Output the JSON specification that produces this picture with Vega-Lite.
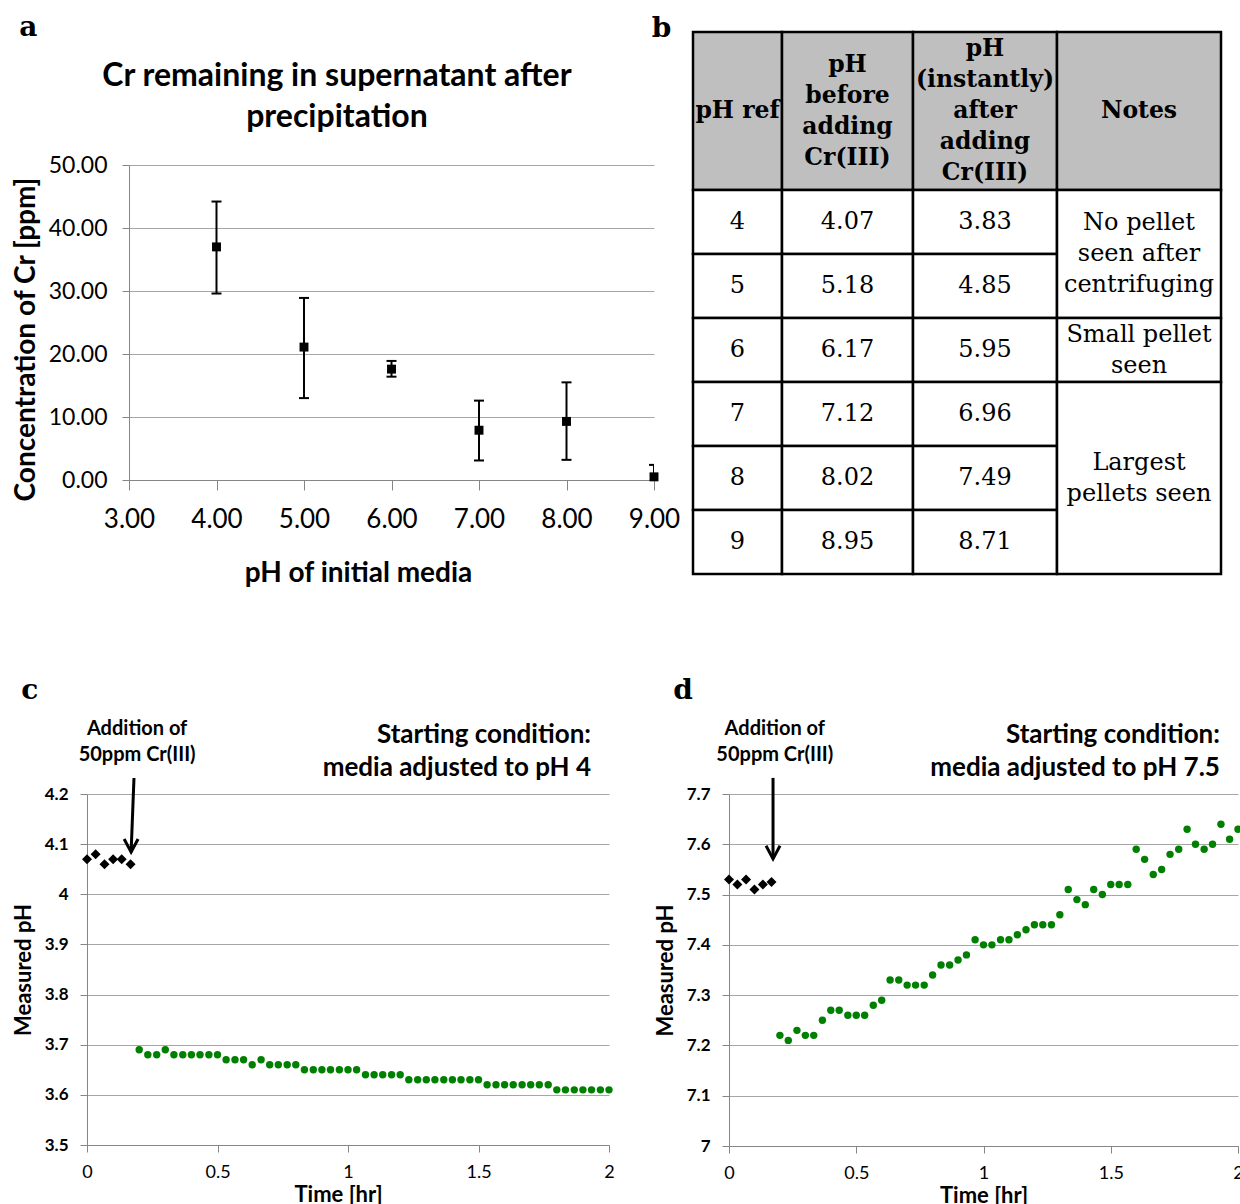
{
  "$schema": "https://vega.github.io/schema/vega-lite/v6.json",
  "background": "white",
  "padding": {"left": 12, "top": 14, "right": 0, "bottom": 0},
  "config": {
    "view": {"stroke": null},
    "axis": {"domainColor": "#868686", "tickColor": "#868686", "gridColor": "#a6a6a6", "labelColor": "black", "titleColor": "black", "labelFont": "Lato", "titleFont": "Lato", "domainWidth": 1, "gridWidth": 1, "tickWidth": 1},
    "title": {"color": "black"}
  },
  "datasets": {
    "panelA": [
      {"pH": 4, "conc": 37.0, "lo": 29.6, "hi": 44.2},
      {"pH": 5, "conc": 21.1, "lo": 13.0, "hi": 28.9},
      {"pH": 6, "conc": 17.6, "lo": 16.4, "hi": 18.9},
      {"pH": 7, "conc": 7.9, "lo": 3.1, "hi": 12.6},
      {"pH": 8, "conc": 9.3, "lo": 3.2, "hi": 15.5},
      {"pH": 9, "conc": 0.5, "lo": -1.4, "hi": 2.4}
    ],
    "tableHeader": [
      {"c0": 0, "cm": 1, "c1": 2, "r0": 0, "rm": 1, "r1": 2, "label": "pH ref"},
      {"c0": 2, "cm": 3, "c1": 4, "r0": 0, "rm": 1, "r1": 2, "label": "pH\nbefore\nadding\nCr(III)"},
      {"c0": 4, "cm": 5, "c1": 6, "r0": 0, "rm": 1, "r1": 2, "label": "pH\n(instantly)\nafter\nadding\nCr(III)"},
      {"c0": 6, "cm": 7, "c1": 8, "r0": 0, "rm": 1, "r1": 2, "label": "Notes"}
    ],
    "tableBody": [
      {"c0": 0, "cm": 1, "c1": 2, "r0": 2, "rm": 3, "r1": 4, "label": "4"},
      {"c0": 2, "cm": 3, "c1": 4, "r0": 2, "rm": 3, "r1": 4, "label": "4.07"},
      {"c0": 4, "cm": 5, "c1": 6, "r0": 2, "rm": 3, "r1": 4, "label": "3.83"},
      {"c0": 0, "cm": 1, "c1": 2, "r0": 4, "rm": 5, "r1": 6, "label": "5"},
      {"c0": 2, "cm": 3, "c1": 4, "r0": 4, "rm": 5, "r1": 6, "label": "5.18"},
      {"c0": 4, "cm": 5, "c1": 6, "r0": 4, "rm": 5, "r1": 6, "label": "4.85"},
      {"c0": 0, "cm": 1, "c1": 2, "r0": 6, "rm": 7, "r1": 8, "label": "6"},
      {"c0": 2, "cm": 3, "c1": 4, "r0": 6, "rm": 7, "r1": 8, "label": "6.17"},
      {"c0": 4, "cm": 5, "c1": 6, "r0": 6, "rm": 7, "r1": 8, "label": "5.95"},
      {"c0": 0, "cm": 1, "c1": 2, "r0": 8, "rm": 9, "r1": 10, "label": "7"},
      {"c0": 2, "cm": 3, "c1": 4, "r0": 8, "rm": 9, "r1": 10, "label": "7.12"},
      {"c0": 4, "cm": 5, "c1": 6, "r0": 8, "rm": 9, "r1": 10, "label": "6.96"},
      {"c0": 0, "cm": 1, "c1": 2, "r0": 10, "rm": 11, "r1": 12, "label": "8"},
      {"c0": 2, "cm": 3, "c1": 4, "r0": 10, "rm": 11, "r1": 12, "label": "8.02"},
      {"c0": 4, "cm": 5, "c1": 6, "r0": 10, "rm": 11, "r1": 12, "label": "7.49"},
      {"c0": 0, "cm": 1, "c1": 2, "r0": 12, "rm": 13, "r1": 14, "label": "9"},
      {"c0": 2, "cm": 3, "c1": 4, "r0": 12, "rm": 13, "r1": 14, "label": "8.95"},
      {"c0": 4, "cm": 5, "c1": 6, "r0": 12, "rm": 13, "r1": 14, "label": "8.71"},
      {"c0": 6, "cm": 7, "c1": 8, "r0": 2, "rm": 4, "r1": 6, "label": "No pellet\nseen after\ncentrifuging"},
      {"c0": 6, "cm": 7, "c1": 8, "r0": 6, "rm": 7, "r1": 8, "label": "Small pellet\nseen"},
      {"c0": 6, "cm": 7, "c1": 8, "r0": 8, "rm": 11, "r1": 14, "label": "Largest\npellets seen"}
    ],
    "cBefore": [
      {"t": 0, "v": 4.07}, {"t": 0.033, "v": 4.08}, {"t": 0.067, "v": 4.06},
      {"t": 0.1, "v": 4.07}, {"t": 0.133, "v": 4.07}, {"t": 0.167, "v": 4.06}
    ],
    "cAfter": [
      {"t": 0.2, "v": 3.69}, {"t": 0.233, "v": 3.68}, {"t": 0.267, "v": 3.68}, {"t": 0.3, "v": 3.69}, {"t": 0.333, "v": 3.68},
      {"t": 0.367, "v": 3.68}, {"t": 0.4, "v": 3.68}, {"t": 0.433, "v": 3.68}, {"t": 0.467, "v": 3.68}, {"t": 0.5, "v": 3.68},
      {"t": 0.533, "v": 3.67}, {"t": 0.567, "v": 3.67}, {"t": 0.6, "v": 3.67}, {"t": 0.633, "v": 3.66}, {"t": 0.667, "v": 3.67},
      {"t": 0.7, "v": 3.66}, {"t": 0.733, "v": 3.66}, {"t": 0.767, "v": 3.66}, {"t": 0.8, "v": 3.66}, {"t": 0.833, "v": 3.65},
      {"t": 0.867, "v": 3.65}, {"t": 0.9, "v": 3.65}, {"t": 0.933, "v": 3.65}, {"t": 0.967, "v": 3.65}, {"t": 1.0, "v": 3.65},
      {"t": 1.033, "v": 3.65}, {"t": 1.067, "v": 3.64}, {"t": 1.1, "v": 3.64}, {"t": 1.133, "v": 3.64}, {"t": 1.167, "v": 3.64},
      {"t": 1.2, "v": 3.64}, {"t": 1.233, "v": 3.63}, {"t": 1.267, "v": 3.63}, {"t": 1.3, "v": 3.63}, {"t": 1.333, "v": 3.63},
      {"t": 1.367, "v": 3.63}, {"t": 1.4, "v": 3.63}, {"t": 1.433, "v": 3.63}, {"t": 1.467, "v": 3.63}, {"t": 1.5, "v": 3.63},
      {"t": 1.533, "v": 3.62}, {"t": 1.567, "v": 3.62}, {"t": 1.6, "v": 3.62}, {"t": 1.633, "v": 3.62}, {"t": 1.667, "v": 3.62},
      {"t": 1.7, "v": 3.62}, {"t": 1.733, "v": 3.62}, {"t": 1.767, "v": 3.62}, {"t": 1.8, "v": 3.61}, {"t": 1.833, "v": 3.61},
      {"t": 1.867, "v": 3.61}, {"t": 1.9, "v": 3.61}, {"t": 1.933, "v": 3.61}, {"t": 1.967, "v": 3.61}, {"t": 2.0, "v": 3.61}
    ],
    "cArrow": [{"t": 0.18, "v": 4.232, "t2": 0.169, "v2": 4.084}],
    "cArrowTip": [{"t": 0.169, "v": 4.084}],
    "cNoteLeft": [{"t": 0.192, "v": 4.33, "label": "Addition of"}, {"t": 0.192, "v": 4.278, "label": "50ppm Cr(III)"}],
    "cNoteRight": [{"t": 1.931, "v": 4.318, "label": "Starting condition:"}, {"t": 1.931, "v": 4.252, "label": "media adjusted to pH 4"}],
    "dBefore": [
      {"t": 0, "v": 7.53}, {"t": 0.033, "v": 7.52}, {"t": 0.067, "v": 7.53},
      {"t": 0.1, "v": 7.51}, {"t": 0.133, "v": 7.52}, {"t": 0.167, "v": 7.525}
    ],
    "dAfter": [
      {"t": 0.2, "v": 7.22}, {"t": 0.233, "v": 7.21}, {"t": 0.267, "v": 7.23}, {"t": 0.3, "v": 7.22}, {"t": 0.333, "v": 7.22},
      {"t": 0.367, "v": 7.25}, {"t": 0.4, "v": 7.27}, {"t": 0.433, "v": 7.27}, {"t": 0.467, "v": 7.26}, {"t": 0.5, "v": 7.26},
      {"t": 0.533, "v": 7.26}, {"t": 0.567, "v": 7.28}, {"t": 0.6, "v": 7.29}, {"t": 0.633, "v": 7.33}, {"t": 0.667, "v": 7.33},
      {"t": 0.7, "v": 7.32}, {"t": 0.733, "v": 7.32}, {"t": 0.767, "v": 7.32}, {"t": 0.8, "v": 7.34}, {"t": 0.833, "v": 7.36},
      {"t": 0.867, "v": 7.36}, {"t": 0.9, "v": 7.37}, {"t": 0.933, "v": 7.38}, {"t": 0.967, "v": 7.41}, {"t": 1.0, "v": 7.40},
      {"t": 1.033, "v": 7.40}, {"t": 1.067, "v": 7.41}, {"t": 1.1, "v": 7.41}, {"t": 1.133, "v": 7.42}, {"t": 1.167, "v": 7.43},
      {"t": 1.2, "v": 7.44}, {"t": 1.233, "v": 7.44}, {"t": 1.267, "v": 7.44}, {"t": 1.3, "v": 7.46}, {"t": 1.333, "v": 7.51},
      {"t": 1.367, "v": 7.49}, {"t": 1.4, "v": 7.48}, {"t": 1.433, "v": 7.51}, {"t": 1.467, "v": 7.50}, {"t": 1.5, "v": 7.52},
      {"t": 1.533, "v": 7.52}, {"t": 1.567, "v": 7.52}, {"t": 1.6, "v": 7.59}, {"t": 1.633, "v": 7.57}, {"t": 1.667, "v": 7.54},
      {"t": 1.7, "v": 7.55}, {"t": 1.733, "v": 7.58}, {"t": 1.767, "v": 7.59}, {"t": 1.8, "v": 7.63}, {"t": 1.833, "v": 7.60},
      {"t": 1.867, "v": 7.59}, {"t": 1.9, "v": 7.60}, {"t": 1.933, "v": 7.64}, {"t": 1.967, "v": 7.61}, {"t": 2.0, "v": 7.63}
    ],
    "dArrow": [{"t": 0.173, "v": 7.732, "t2": 0.173, "v2": 7.571}],
    "dArrowTip": [{"t": 0.173, "v": 7.571}],
    "dNoteLeft": [{"t": 0.18, "v": 7.829, "label": "Addition of"}, {"t": 0.18, "v": 7.778, "label": "50ppm Cr(III)"}],
    "dNoteRight": [{"t": 1.929, "v": 7.817, "label": "Starting condition:"}, {"t": 1.929, "v": 7.752, "label": "media adjusted to pH 7.5"}]
  },
  "spacing": 89,
  "vconcat": [
    {
      "spacing": -76,
      "hconcat": [
        {"width": 1, "height": 1, "data": {"values": []}, "mark": "point"},
        {
          "spacing": -29,
          "hconcat": [
            {
              "title": {"text": "a", "anchor": "start", "frame": "bounds", "font": "DejaVu Serif", "fontSize": 28, "fontWeight": "bold", "dx": 7, "offset": 18},
              "vconcat": [
                {
                  "width": 525,
                  "height": 315,
                  "title": {"text": ["Cr remaining in supernatant after", "precipitation"], "font": "Lato", "fontSize": 32, "fontWeight": "bold", "lineHeight": 41, "frame": "bounds", "anchor": "middle", "offset": 20, "dx": -9},
                  "data": {"name": "panelA"},
                  "encoding": {
                    "x": {"field": "pH", "type": "quantitative", "title": "pH of initial media",
                      "scale": {"domain": [3, 9], "nice": false, "zero": false},
                      "axis": {"values": [3, 4, 5, 6, 7, 8, 9], "format": ".2f", "grid": false, "labelFlush": false, "tickSize": 10, "labelFontSize": 26, "labelPadding": 16, "titleFontSize": 28, "titleFontWeight": "bold", "titlePadding": 27, "titleX": 229}},
                    "y": {"field": "conc", "type": "quantitative", "title": "Concentration of Cr [ppm]",
                      "scale": {"domain": [0, 50], "nice": false, "zero": false},
                      "axis": {"values": [0, 10, 20, 30, 40, 50], "format": ".2f", "grid": true, "tickSize": 7, "labelFontSize": 23, "labelPadding": 15, "titleFontSize": 28, "titleFontWeight": "bold", "titlePadding": 8, "titleY": 174}}
                  },
                  "layer": [
                    {"mark": {"type": "rule", "strokeWidth": 2, "color": "black", "clip": true},
                     "encoding": {"y": {"field": "lo", "type": "quantitative", "title": "Concentration of Cr [ppm]"}, "y2": {"field": "hi"}}},
                    {"mark": {"type": "tick", "orient": "horizontal", "size": 10, "thickness": 2, "color": "black", "opacity": 1, "clip": true},
                     "encoding": {"y": {"field": "lo", "type": "quantitative", "title": "Concentration of Cr [ppm]"}}},
                    {"mark": {"type": "tick", "orient": "horizontal", "size": 10, "thickness": 2, "color": "black", "opacity": 1, "clip": true},
                     "encoding": {"y": {"field": "hi", "type": "quantitative", "title": "Concentration of Cr [ppm]"}}},
                    {"mark": {"type": "point", "shape": "square", "filled": true, "color": "black", "size": 80, "opacity": 1}}
                  ]
                }
              ]
            },
            {
              "title": {"text": "b", "anchor": "start", "frame": "bounds", "font": "DejaVu Serif", "fontSize": 28, "fontWeight": "bold", "dx": -40, "offset": -12},
              "width": 528,
              "height": 409,
              "encoding": {
                "x": {"field": "c0", "type": "quantitative", "axis": null,
                  "scale": {"type": "linear", "domain": [0, 1, 2, 3, 4, 5, 6, 7, 8], "range": [0, 44.5, 89, 154.5, 220, 292, 364, 446, 528], "nice": false, "zero": false}},
                "y": {"field": "r0", "type": "quantitative", "axis": null,
                  "scale": {"type": "linear", "domain": [0, 1, 2, 3, 4, 5, 6, 7, 8, 9, 10, 11, 12, 13, 14], "range": [-133, -54, 25, 57, 89, 121, 153, 185, 217, 249, 281, 313, 345, 377, 409], "nice": false, "zero": false}}
              },
              "layer": [
                {"data": {"name": "tableHeader"},
                 "mark": {"type": "rect", "fill": "#bfbfbf", "stroke": "black", "strokeWidth": 2.5},
                 "encoding": {"x2": {"field": "c1"}, "y2": {"field": "r1"}}},
                {"data": {"name": "tableBody"},
                 "mark": {"type": "rect", "fill": "white", "stroke": "black", "strokeWidth": 2.5},
                 "encoding": {"x2": {"field": "c1"}, "y2": {"field": "r1"}}},
                {"data": {"name": "tableHeader"},
                 "transform": [{"filter": "length(split(datum.label, '\\n')) == 1"}],
                 "mark": {"type": "text", "font": "DejaVu Serif", "fontSize": 23.5, "fontWeight": "bold", "lineBreak": "\n", "lineHeight": 31, "align": "center", "baseline": "middle", "color": "black"},
                 "encoding": {"x": {"field": "cm", "type": "quantitative"}, "y": {"field": "rm", "type": "quantitative"}, "text": {"field": "label"}}},
                {"data": {"name": "tableHeader"},
                 "transform": [{"filter": "length(split(datum.label, '\\n')) == 4"}],
                 "mark": {"type": "text", "font": "DejaVu Serif", "fontSize": 23.5, "fontWeight": "bold", "lineBreak": "\n", "lineHeight": 31, "align": "center", "baseline": "middle", "dy": -46.5, "color": "black"},
                 "encoding": {"x": {"field": "cm", "type": "quantitative"}, "y": {"field": "rm", "type": "quantitative"}, "text": {"field": "label"}}},
                {"data": {"name": "tableHeader"},
                 "transform": [{"filter": "length(split(datum.label, '\\n')) == 5"}],
                 "mark": {"type": "text", "font": "DejaVu Serif", "fontSize": 23.5, "fontWeight": "bold", "lineBreak": "\n", "lineHeight": 31, "align": "center", "baseline": "middle", "dy": -62, "color": "black"},
                 "encoding": {"x": {"field": "cm", "type": "quantitative"}, "y": {"field": "rm", "type": "quantitative"}, "text": {"field": "label"}}},
                {"data": {"name": "tableBody"},
                 "transform": [{"filter": "length(split(datum.label, '\\n')) == 1"}],
                 "mark": {"type": "text", "font": "DejaVu Serif", "fontSize": 24, "lineBreak": "\n", "lineHeight": 31, "align": "center", "baseline": "middle", "color": "black"},
                 "encoding": {"x": {"field": "cm", "type": "quantitative"}, "y": {"field": "rm", "type": "quantitative"}, "text": {"field": "label"}}},
                {"data": {"name": "tableBody"},
                 "transform": [{"filter": "length(split(datum.label, '\\n')) == 2"}],
                 "mark": {"type": "text", "font": "DejaVu Serif", "fontSize": 24, "lineBreak": "\n", "lineHeight": 31, "align": "center", "baseline": "middle", "dy": -15.5, "color": "black"},
                 "encoding": {"x": {"field": "cm", "type": "quantitative"}, "y": {"field": "rm", "type": "quantitative"}, "text": {"field": "label"}}},
                {"data": {"name": "tableBody"},
                 "transform": [{"filter": "length(split(datum.label, '\\n')) == 3"}],
                 "mark": {"type": "text", "font": "DejaVu Serif", "fontSize": 24, "lineBreak": "\n", "lineHeight": 31, "align": "center", "baseline": "middle", "dy": -31, "color": "black"},
                 "encoding": {"x": {"field": "cm", "type": "quantitative"}, "y": {"field": "rm", "type": "quantitative"}, "text": {"field": "label"}}}
              ]
            }
          ]
        }
      ]
    },
    {
      "spacing": 39,
      "hconcat": [
        {
          "title": {"text": "c", "anchor": "start", "frame": "bounds", "font": "DejaVu Serif", "fontSize": 28, "fontWeight": "bold", "dx": 9, "offset": 14},
          "width": 522,
          "height": 351,
          "encoding": {
            "x": {"field": "t", "type": "quantitative", "title": "Time [hr]",
              "scale": {"domain": [0, 2], "nice": false, "zero": false},
              "axis": {"values": [0, 0.5, 1, 1.5, 2], "format": "~g", "grid": false, "labelFlush": false, "tickSize": 7, "labelFontSize": 18, "labelPadding": 11, "titleFontSize": 22, "titleFontWeight": "bold", "titlePadding": 3, "titleX": 251}},
            "y": {"field": "v", "type": "quantitative", "title": "Measured pH",
              "scale": {"domain": [3.5, 4.2], "nice": false, "zero": false},
              "axis": {"values": [3.5, 3.6, 3.7, 3.8, 3.9, 4, 4.1, 4.2], "format": "~g", "grid": true, "tickSize": 7, "labelFontSize": 17, "labelFontWeight": "bold", "labelPadding": 12, "titleFontSize": 22, "titleFontWeight": "bold", "titlePadding": 9}}
          },
          "layer": [
            {"data": {"name": "cBefore"}, "mark": {"type": "point", "shape": "diamond", "filled": true, "color": "black", "size": 100, "opacity": 1}},
            {"data": {"name": "cAfter"}, "mark": {"type": "point", "shape": "circle", "filled": true, "color": "#008000", "size": 55, "opacity": 1}},
            {"data": {"name": "cArrow"}, "mark": {"type": "rule", "strokeWidth": 3, "color": "black"}, "encoding": {"x2": {"field": "t2"}, "y2": {"field": "v2"}}},
            {"data": {"name": "cArrowTip"}, "mark": {"type": "point", "shape": "M-0.9,-1.7L0,0L0.9,-1.7", "filled": false, "stroke": "black", "strokeWidth": 3, "size": 240, "opacity": 1}},
            {"data": {"name": "cNoteLeft"}, "mark": {"type": "text", "font": "Lato", "fontWeight": "bold", "fontSize": 20, "align": "center", "baseline": "middle", "color": "black"}, "encoding": {"text": {"field": "label"}}},
            {"data": {"name": "cNoteRight"}, "mark": {"type": "text", "font": "Lato", "fontWeight": "bold", "fontSize": 26, "align": "right", "baseline": "middle", "color": "black"}, "encoding": {"text": {"field": "label"}}}
          ]
        },
        {
          "title": {"text": "d", "anchor": "start", "frame": "bounds", "font": "DejaVu Serif", "fontSize": 28, "fontWeight": "bold", "dx": 19, "offset": 14},
          "width": 509,
          "height": 352,
          "encoding": {
            "x": {"field": "t", "type": "quantitative", "title": "Time [hr]",
              "scale": {"domain": [0, 2], "nice": false, "zero": false},
              "axis": {"values": [0, 0.5, 1, 1.5, 2], "format": "~g", "grid": false, "labelFlush": false, "tickSize": 7, "labelFontSize": 18, "labelPadding": 11, "titleFontSize": 22, "titleFontWeight": "bold", "titlePadding": 3}},
            "y": {"field": "v", "type": "quantitative", "title": "Measured pH",
              "scale": {"domain": [7, 7.7], "nice": false, "zero": false},
              "axis": {"values": [7, 7.1, 7.2, 7.3, 7.4, 7.5, 7.6, 7.7], "format": "~g", "grid": true, "tickSize": 7, "labelFontSize": 17, "labelFontWeight": "bold", "labelPadding": 12, "titleFontSize": 22, "titleFontWeight": "bold", "titlePadding": 9}}
          },
          "layer": [
            {"data": {"name": "dBefore"}, "mark": {"type": "point", "shape": "diamond", "filled": true, "color": "black", "size": 100, "opacity": 1}},
            {"data": {"name": "dAfter"}, "mark": {"type": "point", "shape": "circle", "filled": true, "color": "#008000", "size": 55, "opacity": 1}},
            {"data": {"name": "dArrow"}, "mark": {"type": "rule", "strokeWidth": 3, "color": "black"}, "encoding": {"x2": {"field": "t2"}, "y2": {"field": "v2"}}},
            {"data": {"name": "dArrowTip"}, "mark": {"type": "point", "shape": "M-0.9,-1.7L0,0L0.9,-1.7", "filled": false, "stroke": "black", "strokeWidth": 3, "size": 240, "opacity": 1}},
            {"data": {"name": "dNoteLeft"}, "mark": {"type": "text", "font": "Lato", "fontWeight": "bold", "fontSize": 20, "align": "center", "baseline": "middle", "color": "black"}, "encoding": {"text": {"field": "label"}}},
            {"data": {"name": "dNoteRight"}, "mark": {"type": "text", "font": "Lato", "fontWeight": "bold", "fontSize": 26, "align": "right", "baseline": "middle", "color": "black"}, "encoding": {"text": {"field": "label"}}}
          ]
        }
      ]
    }
  ]
}
